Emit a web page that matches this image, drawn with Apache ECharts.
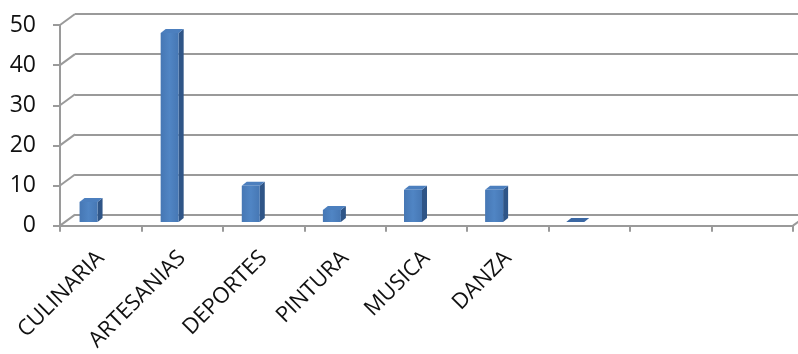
<!DOCTYPE html>
<html>
<head>
<meta charset="utf-8">
<script src="https://cdn.jsdelivr.net/npm/echarts@6/dist/echarts.min.js"></script>
<style>
html,body{margin:0;padding:0;background:#fff;}
#chart{width:798px;height:354px;}
</style>
</head>
<body>
<div id="chart"></div>
<script>
const categories = ['CULINARIA', 'ARTESANIAS', 'DEPORTES', 'PINTURA', 'MUSICA', 'DANZA', '', '', ''];
const values = [5, 47, 9, 3, 8, 8, 0, null, null];
const yTicks = [0, 10, 20, 30, 40, 50];

const gridColor = '#9a9a9a';
const fontFam = '"Open Sans", sans-serif';

const chart = echarts.init(document.getElementById('chart'), null, {renderer: 'canvas'});

const barData = values.map((v, i) => [i, v]).filter(d => d[1] !== null);
const connectorData = yTicks.map(v => [0, v]);

const option = {
  animation: false,
  backgroundColor: '#fff',
  grid: [
    {left: 60, right: 5, top: 25, bottom: 127, containLabel: false},
    {left: 75, right: -10, top: 14, bottom: 139, containLabel: false},
    {left: 48, right: 20, top: 21, bottom: 132, containLabel: false}
  ],
  xAxis: [
    {
      gridIndex: 0, type: 'category', data: categories, boundaryGap: true,
      axisLine: {show: true, lineStyle: {color: gridColor, width: 2}},
      axisTick: {show: true, interval: 0, length: 6, lineStyle: {color: gridColor, width: 2}},
      axisLabel: {interval: 0, rotate: 45, fontSize: 22, fontFamily: fontFam, color: '#111', margin: 29},
      splitLine: {show: false}
    },
    {
      gridIndex: 1, type: 'category', data: categories, show: true,
      axisLine: {show: true, lineStyle: {color: gridColor, width: 2}},
      axisTick: {show: false}, axisLabel: {show: false}, splitLine: {show: false}
    },
    {
      gridIndex: 2, type: 'category', data: categories, show: false
    }
  ],
  yAxis: [
    {
      gridIndex: 0, type: 'value', min: 0, max: 50, interval: 10,
      axisLine: {show: true, lineStyle: {color: gridColor, width: 2}},
      axisTick: {show: true, length: 7, lineStyle: {color: gridColor, width: 2}},
      axisLabel: {fontSize: 23, fontFamily: fontFam, color: '#111', margin: 24},
      splitLine: {show: false}
    },
    {
      gridIndex: 1, type: 'value', min: 0, max: 50, interval: 10,
      axisLine: {show: false}, axisTick: {show: false}, axisLabel: {show: false},
      splitLine: {show: true, lineStyle: {color: gridColor, width: 2}}
    },
    {
      gridIndex: 2, type: 'value', min: 0, max: 50, interval: 10, show: false
    }
  ],
  series: [
    {
      type: 'custom',
      xAxisIndex: 0, yAxisIndex: 0,
      data: connectorData,
      clip: false,
      silent: true,
      renderItem: function (params, api) {
        const cs = params.coordSys;
        const p = api.coord([0, api.value(1)]);
        const children = [{
          type: 'line',
          shape: {x1: cs.x, y1: p[1], x2: cs.x + 15, y2: p[1] - 11},
          style: {stroke: gridColor, lineWidth: 2}
        }];
        if (params.dataIndex === 0) {
          children.push({
            type: 'line',
            shape: {x1: cs.x + cs.width, y1: p[1], x2: cs.x + cs.width + 15, y2: p[1] - 11},
            style: {stroke: gridColor, lineWidth: 2}
          });
        }
        return {type: 'group', children: children};
      }
    },
    {
      type: 'custom',
      xAxisIndex: 2, yAxisIndex: 2,
      data: barData,
      clip: false,
      renderItem: function (params, api) {
        const top = api.coord([api.value(0), api.value(1)]);
        const base = api.coord([api.value(0), 0]);
        const hw = 9, dx = 5, dy = -4;
        const xl = top[0] - hw, xr = top[0] + hw;
        const yt = top[1], yb = base[1];
        const children = [];
        if (yb - yt > 0.5) {
          children.push({
            type: 'polygon',
            shape: {points: [[xr, yt], [xr + dx, yt + dy], [xr + dx, yb + dy], [xr, yb]]},
            style: {fill: '#2f5587'}
          });
          children.push({
            type: 'rect',
            shape: {x: xl, y: yt, width: xr - xl, height: yb - yt},
            style: {fill: {type: 'linear', x: 0, y: 0, x2: 1, y2: 0, colorStops: [
              {offset: 0, color: '#4677b4'}, {offset: 0.5, color: '#5085c4'}, {offset: 1, color: '#4677b4'}]}}
          });
          children.push({
            type: 'polygon',
            shape: {points: [[xl, yt], [xl + dx, yt + dy], [xr + dx, yt + dy], [xr, yt]]},
            style: {fill: '#4c7fbe'}
          });
        } else {
          children.push({
            type: 'polygon',
            shape: {points: [[xl, yt], [xl + dx, yt + dy], [xr + dx, yt + dy], [xr, yt]]},
            style: {fill: '#3a67a3'}
          });
        }
        return {type: 'group', children: children};
      }
    }
  ]
};
chart.setOption(option);
</script>
</body>
</html>
